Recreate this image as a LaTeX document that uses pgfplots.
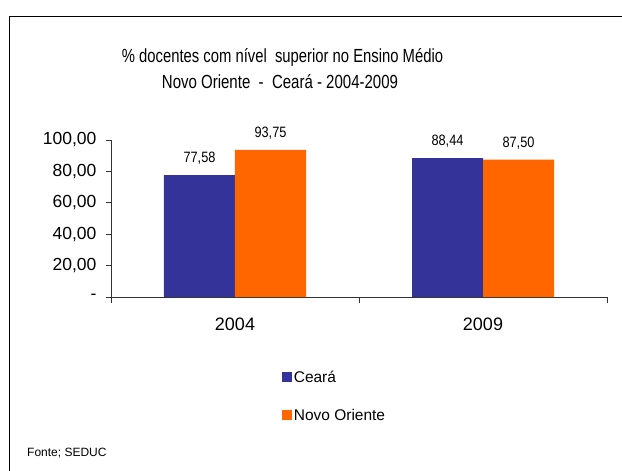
\documentclass[border=0pt]{standalone}
\usepackage{fontspec}
\setmainfont{Liberation Sans}
\usepackage{graphicx}
\usepackage{pgfplots}
\pgfplotsset{compat=1.18}
\definecolor{cblue}{HTML}{333399}
\definecolor{corange}{HTML}{FF6600}
\begin{document}
\begin{tikzpicture}[x=1pt,y=1pt]
\useasboundingbox (0,0) rectangle (622,-471);
\draw[black, line width=1pt] (9,-16) rectangle (700,-600);
\node[font=\fontsize{19}{22}\selectfont] at (282.5,-57) {\scalebox{0.78}[1]{\% docentes com nível \ superior no Ensino Médio}};
\node[font=\fontsize{19}{22}\selectfont] at (280,-82) {\scalebox{0.79}[1]{Novo Oriente \ - \ Ceará - 2004-2009}};
\node[font=\fontsize{12}{14}\selectfont, anchor=west, inner sep=0pt] at (27,-453) {Fonte; SEDUC};
\begin{axis}[
  at={(111pt,-297pt)}, anchor=south west,
  scale only axis, width=496pt, height=157pt,
  xmin=-0.5, xmax=1.5, ymin=0, ymax=100,
  axis x line=bottom, axis y line=left,
  axis line style={-, black!80, line width=0.8pt},
  ybar=0pt, bar width=71pt,
  xtick={0,1}, xticklabels={2004,2009},
  minor xtick={-0.5,0.5,1.5},
  major x tick style={draw=none},
  minor x tick style={black!80, line width=0.8pt},
  minor tick length=6pt,
  ytick={0,20,40,60,80,100},
  yticklabels={-,{20,00},{40,00},{60,00},{80,00},{100,00}},
  major tick length=5pt,
  tick align=outside,
  y tick style={black!80, line width=0.8pt},
  yticklabel style={font=\fontsize{17.5}{20}\selectfont, xshift=-6pt},
  xticklabel style={font=\fontsize{18}{20}\selectfont, yshift=-12pt},
  point meta=explicit symbolic,
  nodes near coords={\scalebox{0.85}[1]{\pgfplotspointmeta}},
  nodes near coords style={font=\fontsize{15}{17}\selectfont, yshift=7pt},
  legend style={draw=none, fill=none, at={(0.345,-0.46)}, anchor=north west,
    font=\fontsize{15.5}{18}\selectfont, row sep=22pt, inner sep=0pt,
    nodes={inner sep=1.5pt}},
  legend cell align=left,
  legend image code/.code={\fill[#1,draw=none] (0pt,-5pt) rectangle (10pt,5pt);},
]
\addplot[fill=cblue, draw=none] coordinates {(0,77.58) [77,58] (1,88.44) [88,44]};
\addplot[fill=corange, draw=none] coordinates {(0,93.75) [93,75] (1,87.50) [87,50]};
\legend{Ceará, Novo Oriente}
\end{axis}
\end{tikzpicture}
\end{document}
